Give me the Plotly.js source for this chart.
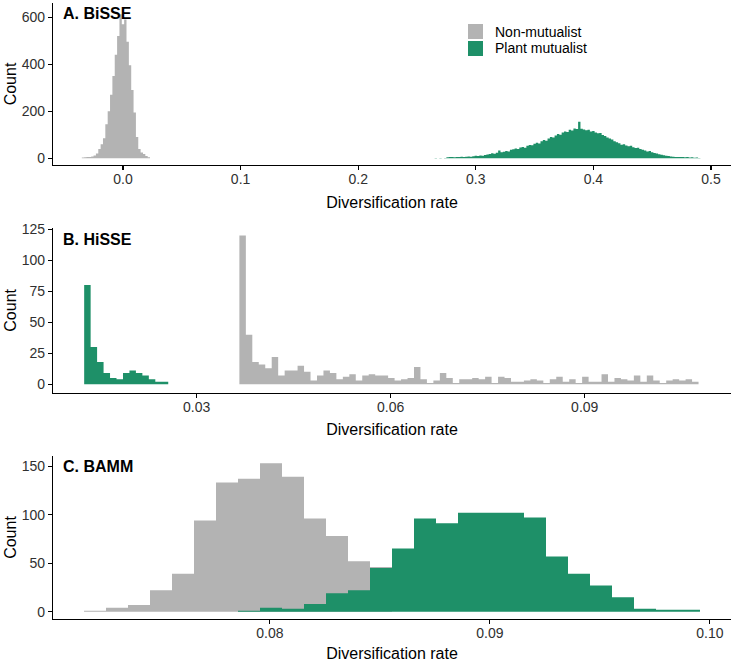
<!DOCTYPE html>
<html>
<head>
<meta charset="utf-8">
<script src="https://cdn.plot.ly/plotly-3.0.1.min.js"></script>
<style>html,body{margin:0;padding:0;background:#fff;}#chart{width:731px;height:662px;}</style>
</head>
<body>
<div id="chart"></div>
<script>
// ---------- DATA ----------
const seriesNames = ["Non-mutualist", "Plant mutualist"];
const panelLabels = ["A. BiSSE", "B. HiSSE", "C. BAMM"];
const xTitle = "Diversification rate";
const yTitle = "Count";

// Panel A (BiSSE) : bin width 0.002
const aBinWidth = 0.002;
const aGrayStart = -0.035;
const aGrayCounts = [3,4,5,6,8,12,20,40,60,85,145,200,270,350,440,520,612,570,590,495,395,290,195,90,40,25,18,10,4];
const aGreenStart = 0.265;
const aGreenCounts = [
  1,0,1,0,1,4,5,5,4,6,
  5,7,6,7,8,7,9,11,10,12,
  11,14,16,18,21,19,24,33,26,28,
  31,29,36,38,42,39,46,48,45,53,
  57,55,62,66,63,72,78,75,84,90,
  88,97,103,100,110,114,112,121,118,127,
  124,155,126,122,119,121,114,116,110,106,
  108,99,95,88,84,80,72,68,64,58,
  60,54,51,53,47,44,45,39,36,33,
  29,31,26,23,20,17,15,13,11,10,
  8,7,6,6,5,5,4,5,3,4,
  2,3,1];

// Panel B (HiSSE) : bin width 0.001
const bBinWidth = 0.001;
const bGreenStart = 0.0126;
const bGreenCounts = [80,30,18,9,5,4,9,11,9,7,4,2,2];
const bGrayStart = 0.0366;
const bGrayCounts = [
  120,40,18,16,13,22,7,11,11,15,
  10,3,7,11,9,4,6,8,3,7,
  8,7,7,5,3,4,5,14,4,1,
  3,9,5,1,4,4,5,4,6,1,
  6,5,2,2,3,4,3,1,4,6,
  2,4,1,6,2,2,8,2,5,4,
  3,7,2,7,3,1,3,4,3,4,
  2];

// Panel C (BAMM) : bin width 0.001
const cBinWidth = 0.001;
const cGrayStart = 0.07155;
const cGrayCounts = [1,4,7,22,39,94,133,137,153,139,96,78,52,46];
const cGreenStart = 0.07855;
const cGreenCounts = [1,4,3,8,19,22,45,65,96,91,102,102,102,97,57,39,27,15,3,2,2];

// ---------- STYLE ----------
const GRAY = "#B3B3B3";
const GREEN = "#1E9068";
const COLORS = [GRAY, GREEN];
const FONT = "Liberation Sans, Arial, Helvetica, sans-serif";

// Histogram drawn as a filled step outline (bin edges -> counts), no seams between bins
function histTrace(start, width, counts, color, name, xa, ya) {
  const xs = [start], ys = [0];
  for (let i = 0; i < counts.length; i++) {
    xs.push(start + width * i);
    ys.push(counts[i]);
  }
  const end = start + width * counts.length;
  xs.push(end); ys.push(counts[counts.length - 1]);
  xs.push(end); ys.push(0);
  return {
    type: "scatter", mode: "lines",
    x: xs, y: ys,
    line: {width: 0, shape: "hv", color: color},
    fill: "tozeroy", fillcolor: color,
    name: name, showlegend: false,
    xaxis: xa, yaxis: ya,
    hoverinfo: "skip"
  };
}

const traces = [
  histTrace(aGrayStart, aBinWidth, aGrayCounts, GRAY, seriesNames[0], "x", "y"),
  histTrace(aGreenStart, aBinWidth, aGreenCounts, GREEN, seriesNames[1], "x", "y"),
  histTrace(bGrayStart, bBinWidth, bGrayCounts, GRAY, seriesNames[0], "x2", "y2"),
  histTrace(bGreenStart, bBinWidth, bGreenCounts, GREEN, seriesNames[1], "x2", "y2"),
  histTrace(cGrayStart, cBinWidth, cGrayCounts, GRAY, seriesNames[0], "x3", "y3"),
  histTrace(cGreenStart, cBinWidth, cGreenCounts, GREEN, seriesNames[1], "x3", "y3")
];

const W = 731, H = 662;
const xDom = [53 / W, 1];
function yDom(topPx, botPx) { return [1 - botPx / H, 1 - topPx / H]; }

function xAxis(range, tick0, dtick, fmt, anchor) {
  return {
    domain: xDom, range: range, anchor: anchor,
    tick0: tick0, dtick: dtick, tickformat: fmt,
    showline: true, linecolor: "#000", linewidth: 1.1,
    ticks: "outside", ticklen: 4, tickwidth: 1.1, tickcolor: "#000",
    ticklabelstandoff: -3,
    showgrid: false, zeroline: false, automargin: false,
    tickfont: {family: FONT, size: 14, color: "#303030"},
    title: {text: xTitle, font: {family: FONT, size: 16, color: "#000"}, standoff: 10}
  };
}
function yAxis(domain, range, dtick, anchor) {
  return {
    domain: domain, range: range, anchor: anchor,
    tick0: 0, dtick: dtick,
    showline: true, linecolor: "#000", linewidth: 1.1,
    ticks: "outside", ticklen: 4, tickwidth: 1.1, tickcolor: "#000",
    showgrid: false, zeroline: false, automargin: false,
    tickfont: {family: FONT, size: 14, color: "#303030"},
    title: {text: yTitle, font: {family: FONT, size: 16, color: "#000"}, standoff: 1}
  };
}

// manual legend keys (paper pixel positions)
const legendX = 468, legendKey = 15, legendRowTops = [24, 41], legendTextX = 493;
const shapes = seriesNames.map((n, i) => ({
  type: "rect", xref: "paper", yref: "paper",
  x0: legendX / W, x1: (legendX + legendKey) / W,
  y0: 1 - (legendRowTops[i] + legendKey) / H, y1: 1 - legendRowTops[i] / H,
  fillcolor: COLORS[i], line: {width: 0}
}));
const legendTexts = seriesNames.map((n, i) => ({
  text: n, xref: "paper", yref: "paper",
  x: legendTextX / W, y: 1 - (legendRowTops[i] + legendKey / 2) / H,
  xanchor: "left", yanchor: "middle", showarrow: false,
  font: {family: FONT, size: 14, color: "#000"}
}));
const panelY = [13, 239, 467];
const panelTexts = panelLabels.map((t, i) => ({
  text: "<b>" + t + "</b>", xref: "paper", yref: "paper",
  x: 61 / W, y: 1 - panelY[i] / H, xanchor: "left", yanchor: "middle",
  showarrow: false, font: {family: FONT, size: 16, color: "#000"}
}));

const layout = {
  width: W, height: H,
  margin: {l: 0, r: 0, t: 0, b: 0},
  paper_bgcolor: "#fff", plot_bgcolor: "#fff",
  font: {family: FONT, color: "#000"},
  xaxis: xAxis([-0.0595, 0.517], 0, 0.1, ".1f", "y"),
  yaxis: yAxis(yDom(3, 165), [-28.5, 660], 200, "x"),
  xaxis2: xAxis([0.00778, 0.11262], 0.03, 0.03, ".2f", "y2"),
  yaxis2: yAxis(yDom(228, 392.7), [-6.8, 126], 25, "x2"),
  xaxis3: xAxis([0.07014, 0.10096], 0.08, 0.01, ".2f", "y3"),
  yaxis3: yAxis(yDom(455.7, 619.3), [-7.8, 160.7], 50, "x3"),
  showlegend: false,
  shapes: shapes,
  annotations: panelTexts.concat(legendTexts)
};

Plotly.newPlot("chart", traces, layout, {displayModeBar: false, staticPlot: true});
</script>
</body>
</html>
